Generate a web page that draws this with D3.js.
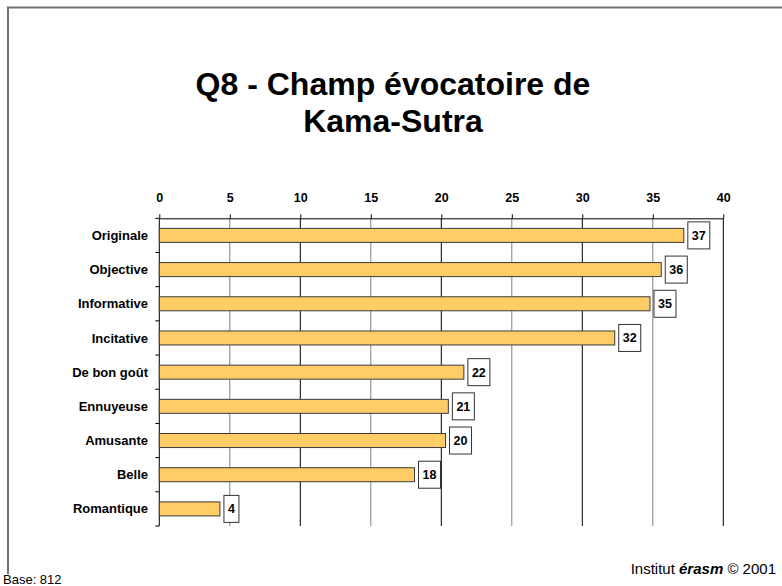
<html>
<head>
	<meta charset='utf-8' />
	<title>Q8 - Champ évocatoire de Kama-Sutra</title>
	<script src="https://cdn.jsdelivr.net/npm/d3@7"></script>
	<style>
	body { margin: 0; background: #ffffff; }
	text { font-family: Arial, "Liberation Sans", sans-serif; }
	</style>
</head>
<body>
<script>

	// data (bar lengths; labels are the rounded values)
	var categories = ["Originale","Objective","Informative","Incitative","De bon goût","Ennuyeuse","Amusante","Belle","Romantique"];
	var values = [37.2, 35.6, 34.8, 32.3, 21.6, 20.5, 20.3, 18.1, 4.3];
	var labels = ["37","36","35","32","22","21","20","18","4"];
	var xTicks = [0,5,10,15,20,25,30,35,40];
	var titleLines = ["Q8 - Champ évocatoire de","Kama-Sutra"];

	var W = 782, H = 586;

	var svg = d3.select("body").append("svg")
		.attr("width", W).attr("height", H);

	// frame
	svg.append("path")
		.attr("d", "M8,574 V7.5 H782")
		.attr("fill","none").attr("stroke","#707070").attr("stroke-width",2);

	// title
	var title = svg.append("text")
		.attr("text-anchor","middle")
		.attr("font-size","32px")
		.attr("font-weight","bold")
		.attr("fill","black");
	title.selectAll("tspan").data(titleLines).enter().append("tspan")
		.attr("x",393)
		.attr("y",(d,i)=>95 + i*37)
		.text(d=>d);

	var xScale = d3.scaleLinear().domain([0,40]).range([159.3,723.3]);
	var yScale = d3.scaleBand().domain(categories).range([218.3,526]);
	var plotTop = yScale.range()[0], plotBottom = yScale.range()[1];

	// gridlines
	svg.append("g").selectAll("line")
		.data(xTicks.filter(d=>d>0)).enter().append("line")
		.attr("x1",d=>xScale(d)).attr("x2",d=>xScale(d))
		.attr("y1",plotTop).attr("y2",plotBottom)
		.attr("stroke",d=>d%10==0 ? "#000000" : "#808080")
		.attr("stroke-width",1);

	// top axis
	var xAxis = svg.append("g")
		.attr("transform",`translate(0,${plotTop})`)
		.call(d3.axisTop(xScale).tickValues(xTicks).tickSize(4).tickPadding(12).tickSizeOuter(0));
	xAxis.select(".domain").attr("stroke","black");
	xAxis.selectAll("text")
		.attr("font-family","Arial, 'Liberation Sans', sans-serif")
		.attr("font-size","12.5px").attr("font-weight","bold").attr("fill","black");

	// left axis with ticks between categories
	var yAx = svg.append("g");
	yAx.append("line")
		.attr("x1",xScale(0)).attr("x2",xScale(0))
		.attr("y1",plotTop).attr("y2",plotBottom).attr("stroke","black");
	yAx.selectAll(".tk").data(categories.map((c,i)=>i).concat([categories.length])).enter().append("line")
		.attr("class","tk")
		.attr("x1",xScale(0)-4).attr("x2",xScale(0))
		.attr("y1",i=>plotTop + i*yScale.step()).attr("y2",i=>plotTop + i*yScale.step())
		.attr("stroke","black");
	yAx.selectAll("text").data(categories).enter().append("text")
		.attr("x",148)
		.attr("y",d=>yScale(d)+yScale.bandwidth()/2)
		.attr("dy","0.35em")
		.attr("text-anchor","end")
		.attr("font-size","13px").attr("font-weight","bold")
		.attr("fill","black")
		.text(d=>d);

	// bars
	var barH = yScale.bandwidth()*0.41;
	svg.append("g").selectAll("rect")
		.data(categories).enter().append("rect")
		.attr("x",xScale(0))
		.attr("y",d=>yScale(d)+yScale.bandwidth()/2-barH/2)
		.attr("width",(d,i)=>xScale(values[i])-xScale(0))
		.attr("height",barH)
		.attr("fill","#FFCC66")
		.attr("stroke","#3a3a3a").attr("stroke-width",1);

	// value boxes
	var lab = svg.append("g").selectAll("g")
		.data(categories).enter().append("g")
		.attr("transform",(d,i)=>`translate(${xScale(values[i])+4},${yScale(d)+yScale.bandwidth()/2})`);
	lab.append("rect")
		.attr("x",0).attr("y",-13.5)
		.attr("width",(d,i)=>labels[i].length*7+8)
		.attr("height",27)
		.attr("fill","white").attr("stroke","#333").attr("stroke-width",1);
	lab.append("text")
		.attr("x",(d,i)=>(labels[i].length*7+8)/2)
		.attr("dy","0.35em")
		.attr("text-anchor","middle")
		.attr("font-size","12.5px").attr("font-weight","bold").attr("fill","black")
		.text((d,i)=>labels[i]);

	// footer
	svg.append("text")
		.attr("x",3).attr("y",584)
		.attr("font-size","13px").attr("fill","black")
		.text("Base: 812");

	var credit = svg.append("text")
		.attr("x",776).attr("y",574)
		.attr("text-anchor","end")
		.attr("font-size","15px").attr("fill","black");
	credit.append("tspan").text("Institut ");
	credit.append("tspan").attr("font-weight","bold").attr("font-style","italic").text("érasm");
	credit.append("tspan").text("  © 2001");

</script>
</body>
</html>
